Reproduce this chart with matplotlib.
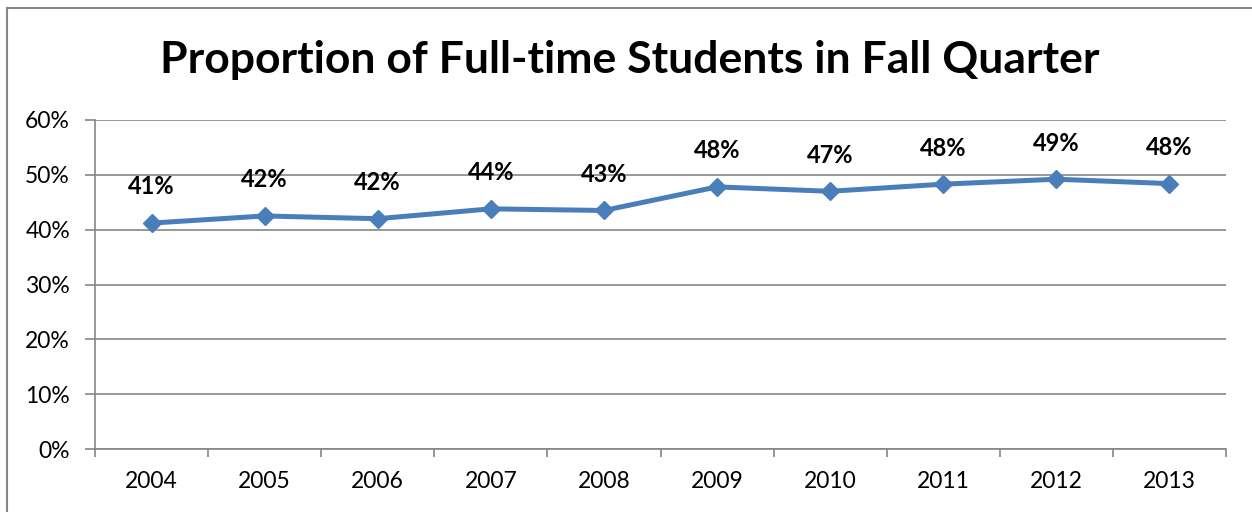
import matplotlib
matplotlib.use("Agg")
import matplotlib.pyplot as plt
from matplotlib.lines import Line2D

years = ["2004", "2005", "2006", "2007", "2008", "2009", "2010", "2011", "2012", "2013"]
values = [41.2, 42.5, 42.0, 43.8, 43.5, 47.8, 47.0, 48.3, 49.2, 48.4]
labels = ["41%", "42%", "42%", "44%", "43%", "48%", "47%", "48%", "49%", "48%"]
yticks = [0, 10, 20, 30, 40, 50, 60]
title = "Proportion of Full-time Students in Fall Quarter"

plt.rcParams['font.family'] = ['Lato', 'DejaVu Sans']

W, H = 1252, 512
fig = plt.figure(figsize=(W / 100, H / 100), dpi=100)
ax = fig.add_axes([95 / W, (H - 449) / H, (1226 - 95) / W, (449 - 120) / H])

x = list(range(len(years)))
ax.plot(x, values, color="#4A7EBB", lw=3.6, marker="D", markersize=9.5,
        markerfacecolor="#4A7EBB", markeredgecolor="#4A7EBB", zorder=3)
for xi, v, lab in zip(x, values, labels):
    ax.annotate(lab, (xi, v), xytext=(0, 26), textcoords="offset points",
                ha="center", va="center", fontsize=17, fontweight="bold", color="black")

ax.set_xlim(-0.5, len(years) - 0.5)
ax.set_ylim(0, 60)
ax.set_yticks(yticks)
ax.set_yticklabels([f"{t}%" for t in yticks], fontsize=16.5)
ax.set_xticks(x)
ax.set_xticklabels(years, fontsize=16.5)
ax.set_xticks([i - 0.5 for i in range(len(years) + 1)], minor=True)
ax.tick_params(axis="x", which="major", length=0, pad=16)
ax.tick_params(axis="x", which="minor", length=6, color="#868686", width=1.2)
ax.tick_params(axis="y", length=7, color="#868686", width=1.2, pad=11)
ax.grid(axis="y", color="#868686", lw=1.2)
ax.set_axisbelow(True)
for s in ["top", "right"]:
    ax.spines[s].set_visible(False)
for s in ["left", "bottom"]:
    ax.spines[s].set_color("#868686")
    ax.spines[s].set_linewidth(1.2)

fig.text(630 / W, 1 - 60 / H, title, ha="center", va="center", fontsize=32, fontweight="bold")

# chart border
fig.add_artist(Line2D([7 / W, 7 / W], [0, 1 - 8 / H], transform=fig.transFigure, color="#868686", lw=1.5))
fig.add_artist(Line2D([7 / W, 1], [1 - 8 / H, 1 - 8 / H], transform=fig.transFigure, color="#868686", lw=1.5))

fig.savefig("out.png", dpi=100)
